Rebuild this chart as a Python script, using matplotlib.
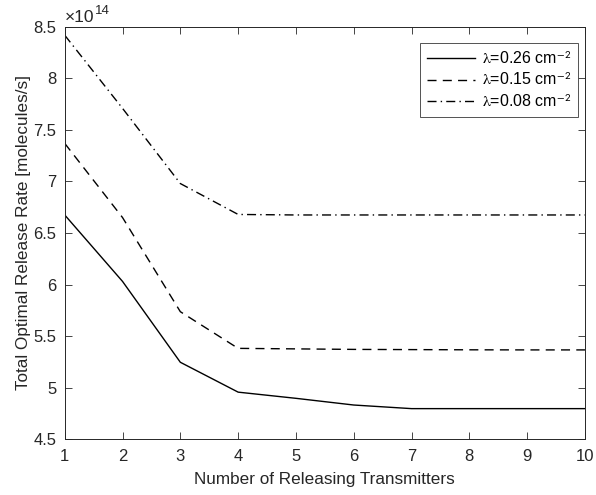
import numpy as np
import matplotlib
matplotlib.use("Agg")
import matplotlib.pyplot as plt
from matplotlib.ticker import FuncFormatter

plt.rcParams["font.family"] = ["Liberation Sans", "DejaVu Sans"]
plt.rcParams["mathtext.fontset"] = "stix"

# Data (release rates in units of 1e14 molecules/s)

n_tx = [1, 2, 3, 4, 5, 6, 7, 8, 9, 10]

rate_026 = [6.675, 6.03, 5.245, 4.955, 4.895, 4.83, 4.795, 4.795, 4.795, 4.795]
rate_015 = [7.37, 6.65, 5.736, 5.38, 5.375, 5.37, 5.368, 5.366, 5.365, 5.365]
rate_008 = [8.42, 7.71, 6.98, 6.68, 6.675, 6.675, 6.675, 6.675, 6.675, 6.675]

labels = [r"$\mathrm{\lambda}$=0.26 cm$^{\mathsf{-2}}$",
          r"$\mathrm{\lambda}$=0.15 cm$^{\mathsf{-2}}$",
          r"$\mathrm{\lambda}$=0.08 cm$^{\mathsf{-2}}$"]

y_ticks = [4.5, 5, 5.5, 6, 6.5, 7, 7.5, 8, 8.5]

# Plot

fig = plt.figure(figsize=(5.96, 4.95), dpi=100)
ax = fig.add_axes([0.1086, 0.1131, 0.8729, 0.8324])

ax.plot(n_tx, rate_026, color="black", linewidth=1.0, linestyle="-", label=labels[0])
ax.plot(n_tx, rate_015, color="black", linewidth=1.0, linestyle=(0, (6.5, 4.5)), label=labels[1])
ax.plot(n_tx, rate_008, color="black", linewidth=1.0, linestyle=(0, (6.5, 3, 1, 3)), label=labels[2])

ax.set_xlim(1, 10)
ax.set_ylim(4.5, 8.5)
ax.set_xticks(n_tx)
ax.set_yticks(y_ticks)
ax.yaxis.set_major_formatter(FuncFormatter(lambda v, p: f"{v:g}"))

ax.tick_params(direction="in", top=True, right=True, length=5, width=0.6,
               labelsize=12, colors="#262626")
ax.tick_params(axis="x", pad=7)
ax.tick_params(axis="y", pad=6)
for s in ax.spines.values():
    s.set_linewidth(0.7)
    s.set_color("#262626")

ax.set_xlabel("Number of Releasing Transmitters", fontsize=12.3, color="#262626", labelpad=6)
ax.set_ylabel("Total Optimal Release Rate [molecules/s]", fontsize=12.3, color="#262626", labelpad=2)

# exponent label, MATLAB style
ax.text(0.0, 1.004, "\u00d710", transform=ax.transAxes,
        fontsize=12.5, color="#262626", ha="left", va="bottom")
ax.annotate("14", xy=(0.0, 1.004), xycoords="axes fraction", xytext=(21.5, 6),
            textcoords="offset points", fontsize=9.5, color="#262626",
            ha="left", va="bottom")

leg = ax.legend(loc="upper right", bbox_to_anchor=(0.99, 0.965), fontsize=11.5,
                frameon=True, fancybox=False, edgecolor="#262626",
                handlelength=3.0, handletextpad=0.4, borderpad=0.45,
                labelspacing=0.3, borderaxespad=0.1)
leg.get_frame().set_linewidth(0.7)

fig.savefig("out.png", dpi=100)
